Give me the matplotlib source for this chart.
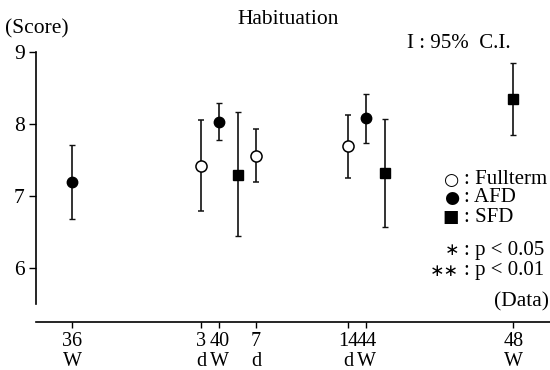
import matplotlib
matplotlib.use("Agg")
import matplotlib.pyplot as plt
import numpy as np

plt.rcParams['font.family'] = ['Liberation Serif', 'DejaVu Serif', 'DejaVu Sans']

# Age on a week scale; the day-old Fullterm measurements sit beside the 40W / 44W groups
ft_age = [39.5, 41.0, 43.5]
ft_mean = [7.42, 7.56, 7.69]
ft_lo = [6.79, 7.19, 7.25]
ft_hi = [8.05, 7.93, 8.12]

afd_age = [36, 40, 44]
afd_mean = [7.20, 8.02, 8.08]
afd_lo = [6.68, 7.77, 7.73]
afd_hi = [7.71, 8.29, 8.41]

sfd_age = [40.5, 44.5, 48]
sfd_mean = [7.29, 7.32, 8.34]
sfd_lo = [6.44, 6.57, 7.85]
sfd_hi = [8.17, 8.07, 8.85]

tick_pos = [36, 39.5, 40, 41, 43.5, 44, 48]
tick_labels = ['36\nW', '3\nd', '40\nW', '7\nd', '14\nd', '44\nW', '48\nW']
y_ticks = [6, 7, 8, 9]

W, H = 550, 370
fig = plt.figure(figsize=(W / 100, H / 100), dpi=100)
ax = fig.add_axes([35.7 / W, 1 - 322.3 / H, (W - 35.7) / W, (322.3 - 51.7) / H])


def ci(mean, lo, hi):
    m = np.asarray(mean)
    return [m - np.asarray(lo), np.asarray(hi) - m]


common = dict(ecolor='#111111', elinewidth=1.2, capsize=2.2, capthick=1.0,
              linestyle='none', zorder=3)
ax.errorbar(ft_age, ft_mean, yerr=ci(ft_mean, ft_lo, ft_hi), fmt='o',
            mfc='white', mec='black', mew=1.1, ms=8, **common)
ax.errorbar(afd_age, afd_mean, yerr=ci(afd_mean, afd_lo, afd_hi), fmt='o',
            mfc='black', mec='black', ms=7.5, **common)
ax.errorbar(sfd_age, sfd_mean, yerr=ci(sfd_mean, sfd_lo, sfd_hi), fmt='s',
            mfc='black', mec='black', ms=7, **common)

ax.set_xlim(35, 49)
ax.set_ylim(5.25, 9.0)
for s in ('top', 'right'):
    ax.spines[s].set_visible(False)
ax.spines['left'].set_bounds(5.5, 9)
ax.spines['left'].set_linewidth(1.2)
ax.spines['bottom'].set_linewidth(1.2)

ax.set_yticks(y_ticks)
ax.set_yticklabels([str(v) for v in y_ticks])
ax.set_xticks(tick_pos)
ax.set_xticklabels(tick_labels, linespacing=1.05)
ax.tick_params(axis='y', direction='out', length=5, width=1, pad=3, labelsize=15.5)
ax.tick_params(axis='x', direction='out', length=4.5, width=1, pad=2.5, labelsize=14.5)


def px(x, y):
    return x / W, 1 - y / H


fig.text(*px(288, 20), 'Habituation', ha='center', va='center', fontsize=15.5)
fig.text(*px(5, 29), '(Score)', ha='left', va='center', fontsize=15.5)
fig.text(*px(407, 44), 'I : 95%  C.I.', ha='left', va='center', fontsize=15)
fig.text(*px(549, 302), '(Data)', ha='right', va='center', fontsize=15.5)

legend_rows = [
    (180, '○', 'Fullterm'),
    (198, '●', 'AFD'),
    (217, '■', 'SFD'),
    (250, '∗', 'p < 0.05'),
    (271, '∗∗', 'p < 0.01'),
]
for y, sym, label in legend_rows:
    fig.text(*px(459, y), sym, ha='right', va='center', fontsize=12.5,
             family=['DejaVu Sans'])
    fig.text(*px(464, y), ': ' + label, ha='left', va='center', fontsize=15)

fig.savefig('out.png', dpi=100)
